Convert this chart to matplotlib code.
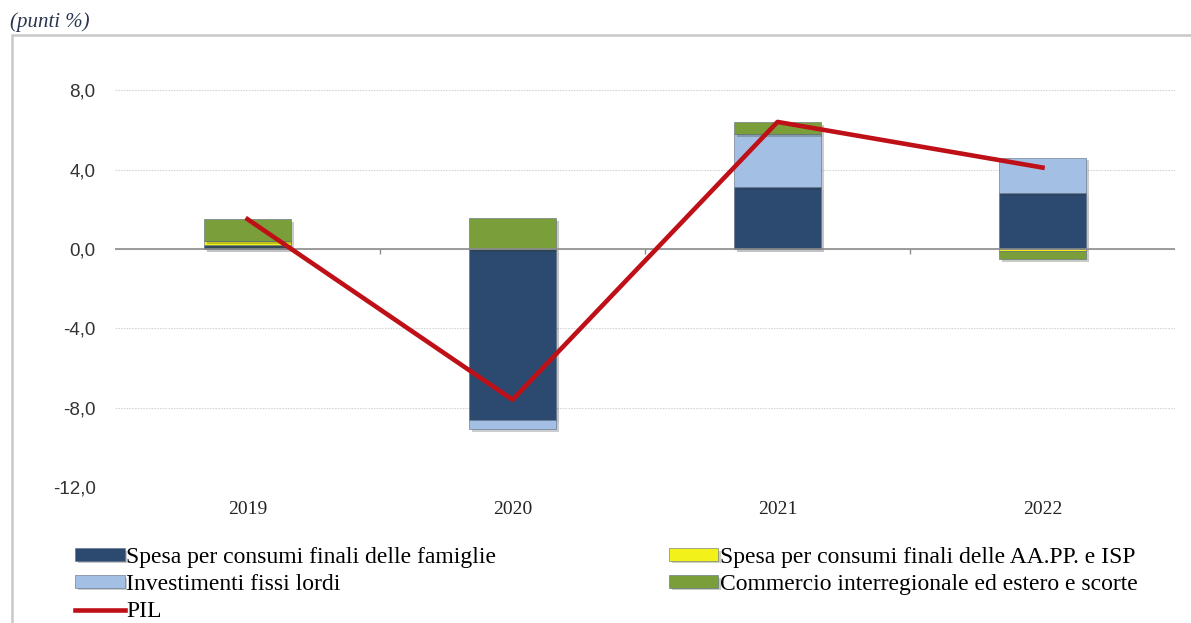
import matplotlib.pyplot as plt
import matplotlib.patheffects as pe
from matplotlib.patches import Rectangle
import numpy as np

# contributi alla crescita del PIL (punti %)
anni = ['2019', '2020', '2021', '2022']
famiglie = [0.2, -8.6, 3.1, 2.8]
aapp_isp = [0.2, 0.0, 0.0, -0.1]
investimenti = [0.0, -0.5, 2.7, 1.8]
commercio = [1.1, 1.55, 0.6, -0.4]
pil = [1.5, -7.6, 6.4, 4.1]

serie = [
    ('Spesa per consumi finali delle famiglie', famiglie, '#2C4A70'),
    ('Spesa per consumi finali delle AA.PP. e ISP', aapp_isp, '#F2F21A'),
    ('Investimenti fissi lordi', investimenti, '#A3BFE3'),
    ('Commercio interregionale ed estero e scorte', commercio, '#7A9E3A'),
]

fig = plt.figure(figsize=(11.91, 6.23), dpi=100)
ax = fig.add_axes([115 / 1191, 136 / 623, 1060 / 1191, 436.5 / 623])

x = np.arange(len(anni))
pos = np.zeros(len(anni))
neg = np.zeros(len(anni))
handles = {}
shadow = [pe.SimplePatchShadow(offset=(2, -2), alpha=0.25), pe.Normal()]
for nome, vals, col in serie:
    vals = np.array(vals)
    base = np.where(vals >= 0, pos, neg)
    b = ax.bar(x, vals, 0.33, bottom=base, color=col, edgecolor='#5a6a80',
               linewidth=0.4, zorder=3, label=nome)
    for p in b:
        p.set_path_effects(shadow)
    handles[nome] = b
    pos = pos + np.where(vals > 0, vals, 0)
    neg = neg + np.where(vals < 0, vals, 0)

linea, = ax.plot(x, pil, color='#BF1018', lw=3.3, zorder=5, label='PIL')

ax.set_xlim(-0.5, 3.5)
ax.set_ylim(-12, 10)
ax.set_yticks([-12, -8, -4, 0, 4, 8])
ax.set_yticklabels(['-12,0', '-8,0', '-4,0', '0,0', '4,0', '8,0'],
                   fontsize=13.5, family='Liberation Sans', color='#333333')
ax.set_xticks(x)
ax.set_xticklabels(anni, fontsize=14, family='Liberation Serif', color='#222222')
ax.tick_params(axis='y', length=0, pad=14)
ax.tick_params(axis='x', length=0, pad=10)
for s in ax.spines.values():
    s.set_visible(False)
ax.grid(axis='y', color='#D6D6D6', linestyle=(0, (1.5, 1)), linewidth=0.8, zorder=0)
ax.axhline(0, color='#8C8C8C', lw=1.2, zorder=4)
ax.vlines([0.5, 1.5, 2.5], -0.25, 0, color='#8C8C8C', lw=1, zorder=4)

# cornice del grafico
fig.patches.append(Rectangle((12 / 1191, -0.2), 1.2, 1.2 - 35 / 623,
                             transform=fig.transFigure, fill=False,
                             edgecolor='#C8C8C8', lw=1.8))
fig.text(10 / 1191, 1 - 22 / 623, '(punti %)', fontsize=15, style='italic',
         family='Liberation Serif', color='#2A3550', va='center')

h = [handles['Spesa per consumi finali delle famiglie'],
     handles['Investimenti fissi lordi'], linea,
     handles['Spesa per consumi finali delle AA.PP. e ISP'],
     handles['Commercio interregionale ed estero e scorte']]
lab = ['Spesa per consumi finali delle famiglie', 'Investimenti fissi lordi', 'PIL',
       'Spesa per consumi finali delle AA.PP. e ISP',
       'Commercio interregionale ed estero e scorte']
fig.legend(h, lab, loc='upper left', bbox_to_anchor=(75 / 1191, 1 - 547 / 623),
           ncol=2, frameon=False, prop={'family': 'Liberation Serif', 'size': 17},
           handlelength=2.1, handleheight=0.42, handletextpad=0.08,
           columnspacing=7.3, labelspacing=0.25, borderpad=0, borderaxespad=0)

fig.savefig('out.png', dpi=100)
